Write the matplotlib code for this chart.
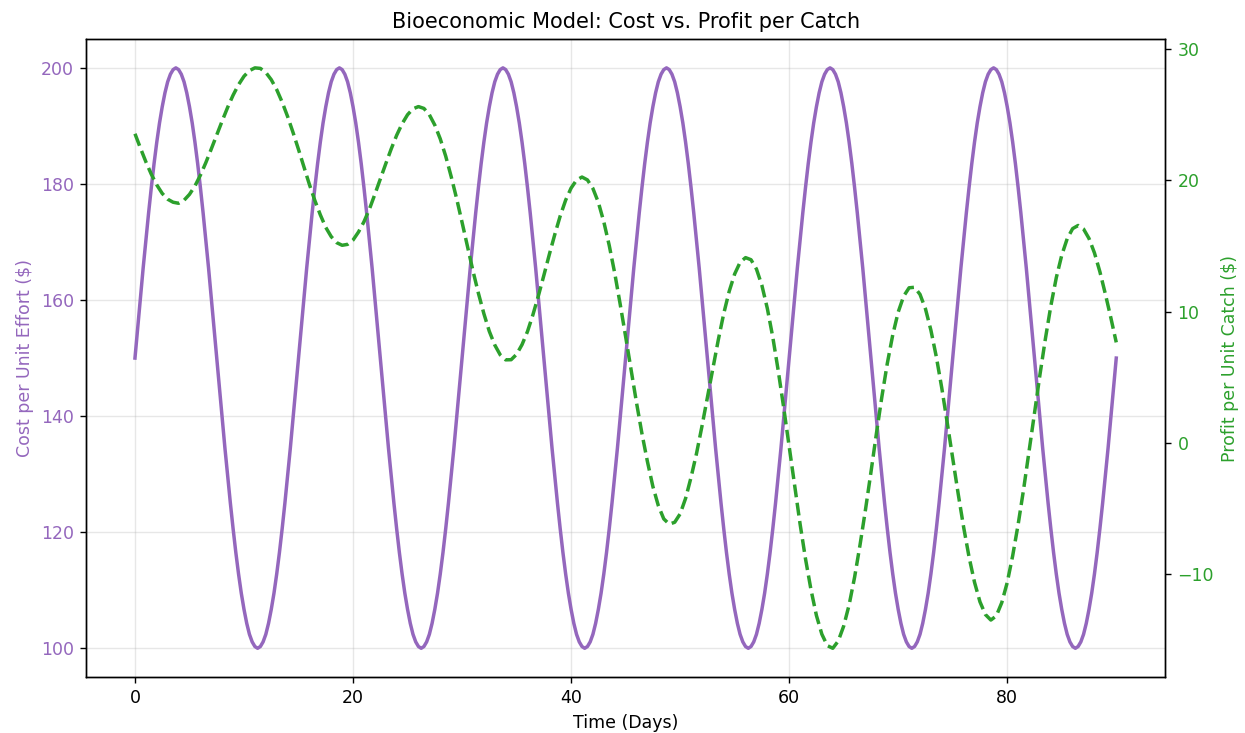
import numpy as np
import matplotlib
matplotlib.use("Agg")
import matplotlib.pyplot as plt


# Time axes: 0 to 90 days (cost read every quarter day, profit every half day)
days_cost = np.linspace(0, 90, 361)
days_profit = np.linspace(0, 90, 181)

# Cost per unit effort ($)
cost = [
    150.0, 155.2, 160.4, 165.5, 170.3, 175.0, 179.4, 183.5, 187.2, 190.5,
    193.3, 195.7, 197.6, 198.9, 199.7, 200.0, 199.7, 198.9, 197.6, 195.7,
    193.3, 190.5, 187.2, 183.5, 179.4, 175.0, 170.3, 165.5, 160.4, 155.2,
    150.0, 144.8, 139.6, 134.5, 129.7, 125.0, 120.6, 116.5, 112.8, 109.5,
    106.7, 104.3, 102.4, 101.1, 100.3, 100.0, 100.3, 101.1, 102.4, 104.3,
    106.7, 109.5, 112.8, 116.5, 120.6, 125.0, 129.7, 134.5, 139.6, 144.8,
    150.0, 155.2, 160.4, 165.5, 170.3, 175.0, 179.4, 183.5, 187.2, 190.5,
    193.3, 195.7, 197.6, 198.9, 199.7, 200.0, 199.7, 198.9, 197.6, 195.7,
    193.3, 190.5, 187.2, 183.5, 179.4, 175.0, 170.3, 165.5, 160.4, 155.2,
    150.0, 144.8, 139.6, 134.5, 129.7, 125.0, 120.6, 116.5, 112.8, 109.5,
    106.7, 104.3, 102.4, 101.1, 100.3, 100.0, 100.3, 101.1, 102.4, 104.3,
    106.7, 109.5, 112.8, 116.5, 120.6, 125.0, 129.7, 134.5, 139.6, 144.8,
    150.0, 155.2, 160.4, 165.5, 170.3, 175.0, 179.4, 183.5, 187.2, 190.5,
    193.3, 195.7, 197.6, 198.9, 199.7, 200.0, 199.7, 198.9, 197.6, 195.7,
    193.3, 190.5, 187.2, 183.5, 179.4, 175.0, 170.3, 165.5, 160.4, 155.2,
    150.0, 144.8, 139.6, 134.5, 129.7, 125.0, 120.6, 116.5, 112.8, 109.5,
    106.7, 104.3, 102.4, 101.1, 100.3, 100.0, 100.3, 101.1, 102.4, 104.3,
    106.7, 109.5, 112.8, 116.5, 120.6, 125.0, 129.7, 134.5, 139.6, 144.8,
    150.0, 155.2, 160.4, 165.5, 170.3, 175.0, 179.4, 183.5, 187.2, 190.5,
    193.3, 195.7, 197.6, 198.9, 199.7, 200.0, 199.7, 198.9, 197.6, 195.7,
    193.3, 190.5, 187.2, 183.5, 179.4, 175.0, 170.3, 165.5, 160.4, 155.2,
    150.0, 144.8, 139.6, 134.5, 129.7, 125.0, 120.6, 116.5, 112.8, 109.5,
    106.7, 104.3, 102.4, 101.1, 100.3, 100.0, 100.3, 101.1, 102.4, 104.3,
    106.7, 109.5, 112.8, 116.5, 120.6, 125.0, 129.7, 134.5, 139.6, 144.8,
    150.0, 155.2, 160.4, 165.5, 170.3, 175.0, 179.4, 183.5, 187.2, 190.5,
    193.3, 195.7, 197.6, 198.9, 199.7, 200.0, 199.7, 198.9, 197.6, 195.7,
    193.3, 190.5, 187.2, 183.5, 179.4, 175.0, 170.3, 165.5, 160.4, 155.2,
    150.0, 144.8, 139.6, 134.5, 129.7, 125.0, 120.6, 116.5, 112.8, 109.5,
    106.7, 104.3, 102.4, 101.1, 100.3, 100.0, 100.3, 101.1, 102.4, 104.3,
    106.7, 109.5, 112.8, 116.5, 120.6, 125.0, 129.7, 134.5, 139.6, 144.8,
    150.0, 155.2, 160.4, 165.5, 170.3, 175.0, 179.4, 183.5, 187.2, 190.5,
    193.3, 195.7, 197.6, 198.9, 199.7, 200.0, 199.7, 198.9, 197.6, 195.7,
    193.3, 190.5, 187.2, 183.5, 179.4, 175.0, 170.3, 165.5, 160.4, 155.2,
    150.0, 144.8, 139.6, 134.5, 129.7, 125.0, 120.6, 116.5, 112.8, 109.5,
    106.7, 104.3, 102.4, 101.1, 100.3, 100.0, 100.3, 101.1, 102.4, 104.3,
    106.7, 109.5, 112.8, 116.5, 120.6, 125.0, 129.7, 134.5, 139.6, 144.8,
    150.0,
]

# Profit per unit catch ($)
profit = [
    23.55, 22.46, 21.41, 20.46, 19.65, 19.00, 18.56, 18.33, 18.25, 18.48,
    18.93, 19.57, 20.39, 21.35, 22.39, 23.46, 24.53, 25.56, 26.49, 27.29,
    27.93, 28.36, 28.57, 28.53, 28.22, 27.67, 26.91, 25.96, 24.86, 23.64,
    22.35, 21.02, 19.68, 18.46, 17.37, 16.41, 15.71, 15.25, 15.05, 15.12,
    15.45, 16.06, 16.84, 17.80, 18.93, 20.10, 21.26, 22.39, 23.43, 24.31,
    25.00, 25.45, 25.62, 25.48, 25.00, 24.21, 23.16, 21.84, 20.29, 18.61,
    16.80, 14.95, 13.10, 11.39, 9.84, 8.49, 7.45, 6.70, 6.32, 6.33,
    6.74, 7.48, 8.48, 9.76, 11.20, 12.75, 14.34, 15.86, 17.28, 18.49,
    19.41, 20.02, 20.25, 20.03, 19.38, 18.32, 16.84, 15.03, 12.93, 10.57,
    8.10, 5.55, 3.05, 0.69, -1.43, -3.33, -4.79, -5.80, -6.20, -6.06,
    -5.42, -4.24, -2.64, -0.83, 1.25, 3.45, 5.68, 7.84, 9.85, 11.54,
    12.86, 13.75, 14.11, 13.95, 13.24, 11.99, 10.23, 8.04, 5.48, 2.67,
    -0.30, -3.27, -6.18, -8.85, -11.19, -13.16, -14.59, -15.46, -15.66, -15.11,
    -13.97, -12.35, -10.25, -7.78, -5.10, -2.25, 0.69, 3.49, 6.04, 8.22,
    9.96, 11.17, 11.81, 11.85, 11.31, 10.21, 8.58, 6.54, 4.16, 1.52,
    -1.20, -3.88, -6.42, -8.71, -10.63, -12.12, -13.09, -13.51, -13.19, -12.18,
    -10.65, -8.61, -6.23, -3.56, -0.67, 2.25, 5.18, 7.92, 10.43, 12.58,
    14.29, 15.55, 16.32, 16.56, 16.29, 15.57, 14.47, 13.03, 11.34, 9.54,
    7.65,
]

cost_color = "#9467bd"
profit_color = "#2ca02c"

fig, ax1 = plt.subplots(figsize=(9.96, 5.864), dpi=125)
fig.subplots_adjust(left=0.069, right=0.936, top=0.947, bottom=0.076)

# left axis: cost
ax1.plot(days_cost, cost, color=cost_color, linewidth=2)
ax1.set_xlabel("Time (Days)")
ax1.set_ylabel("Cost per Unit Effort ($)", color=cost_color)
ax1.tick_params(axis="y", labelcolor=cost_color)
ax1.grid(True, alpha=0.3)

# right axis: profit
ax2 = ax1.twinx()
ax2.plot(days_profit, profit, color=profit_color, linewidth=2, linestyle="--")
ax2.set_ylabel("Profit per Unit Catch ($)", color=profit_color)
ax2.tick_params(axis="y", labelcolor=profit_color)

ax1.set_title("Bioeconomic Model: Cost vs. Profit per Catch")

fig.savefig("out.png", dpi=125)
